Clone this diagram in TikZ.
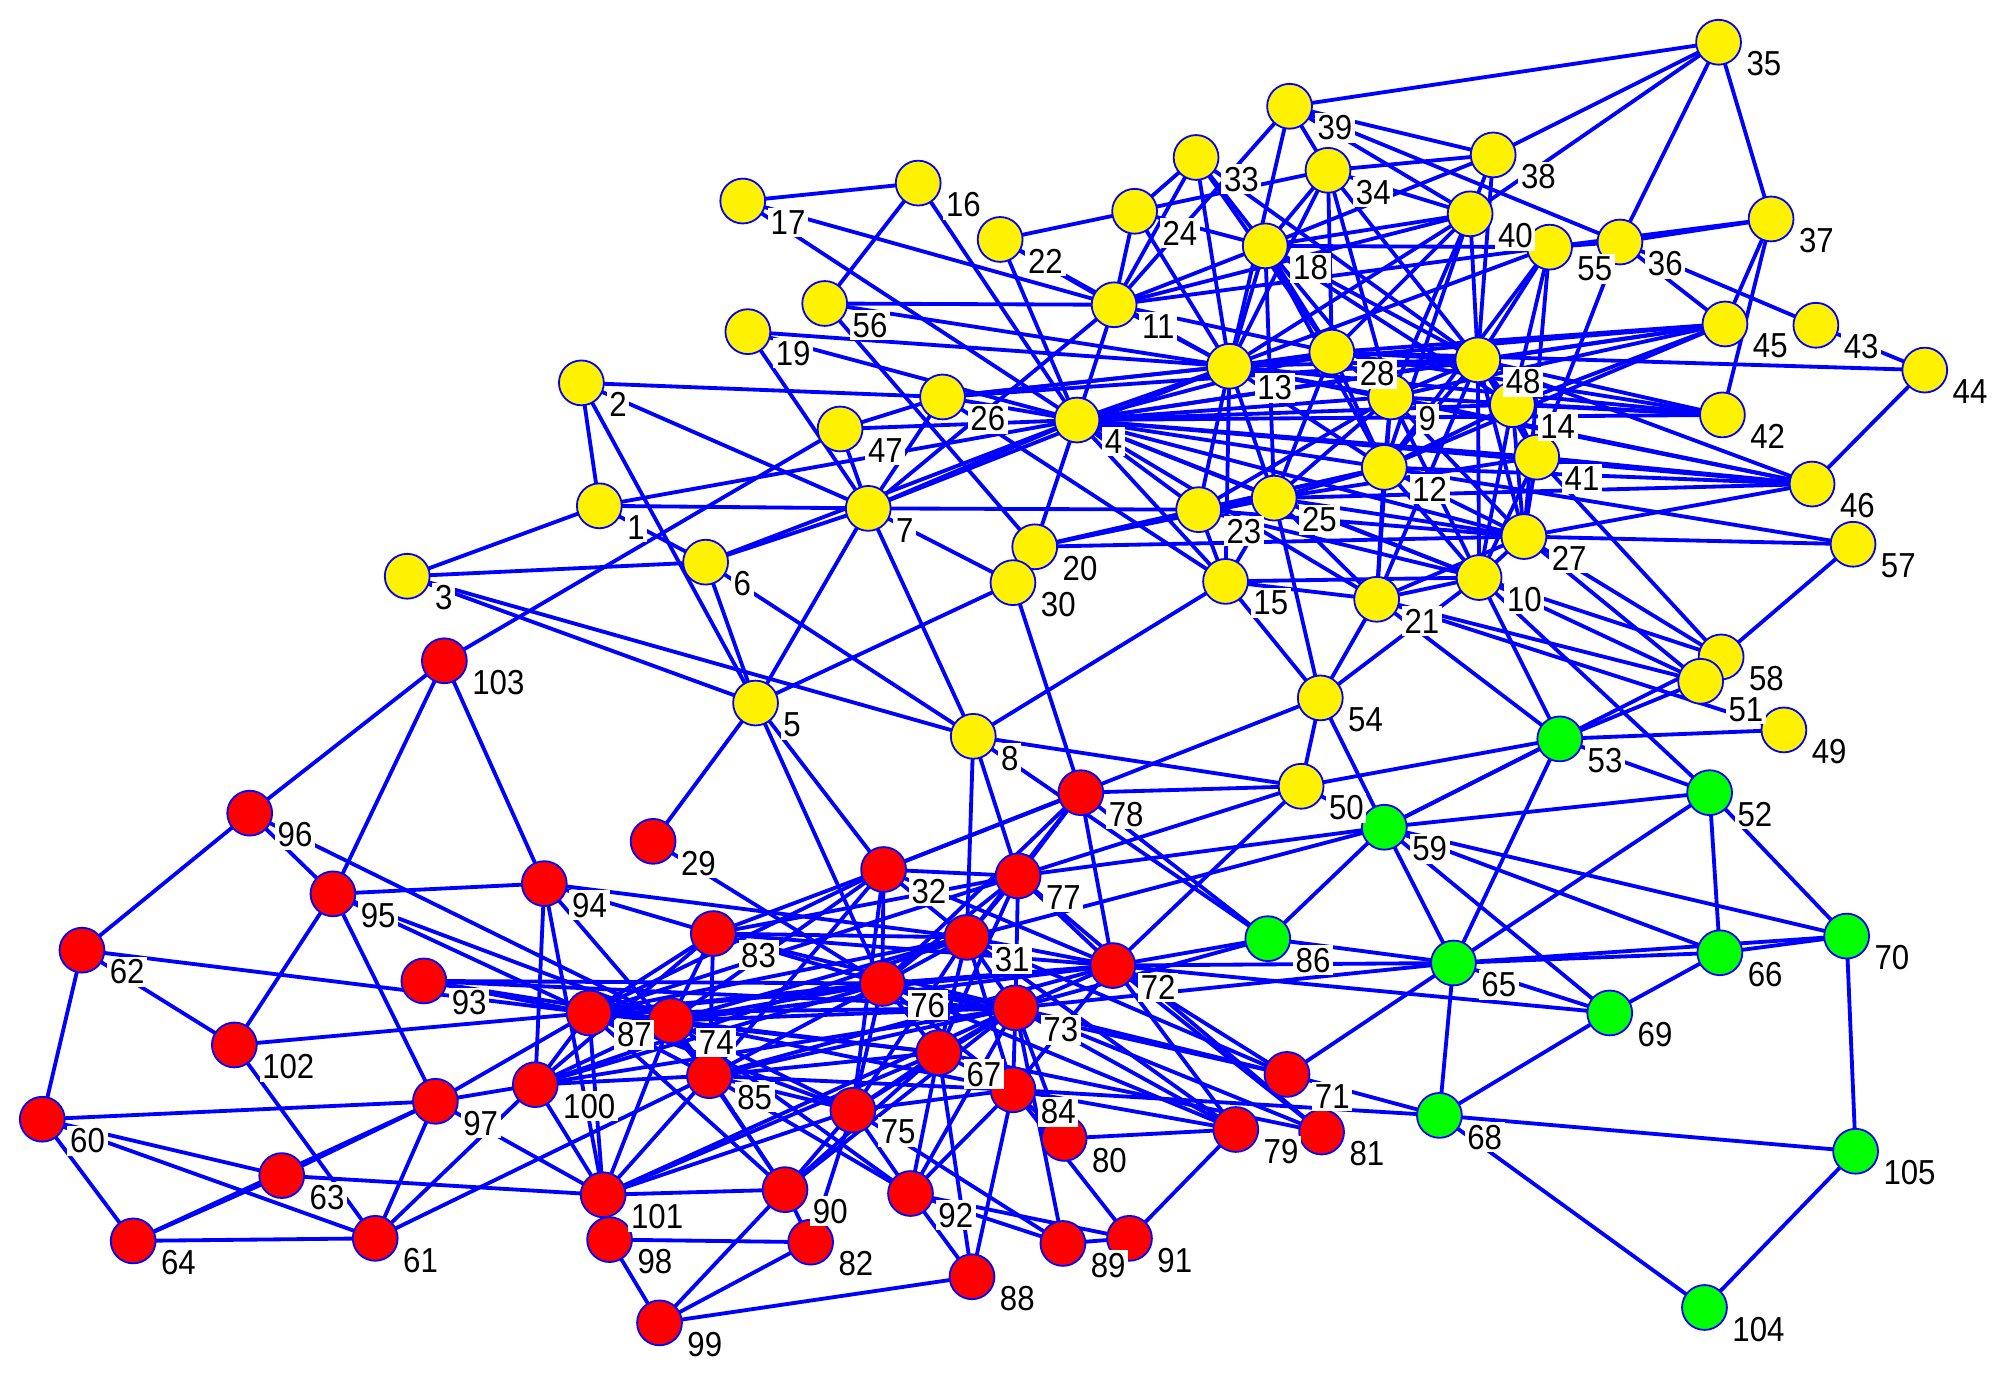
\documentclass[tikz,border=0pt]{standalone}
\usepackage{fontspec}
\setmainfont{Liberation Sans}[FakeStretch=0.9]
\usetikzlibrary{backgrounds,calc}
\begin{document}
\begin{tikzpicture}[x=0.01cm,y=-0.01cm,
  vtx/.style={circle,draw=blue,line width=0.4pt,minimum size=0.35cm,inner sep=0pt},
  yv/.style={vtx,fill=yellow}, rv/.style={vtx,fill=red}, gv/.style={vtx,fill=green},
  lbl/.style={anchor=west,fill=white,inner sep=0.6pt,font=\fontsize{7.7}{8}\selectfont},
  edge/.style={blue,line width=0.85pt}]
\useasboundingbox (0,0) rectangle (1568,1080);
% yellow nodes
\foreach \n/\x/\y in {35/1342/33,39/1007/83,38/1166/121,33/934/123,34/1037/133,17/580/157,16/717/143,
  22/781/187,24/886/165,40/1148/167,37/1383/171,36/1265/189,18/988/192,55/1210/193,11/870/238,
  56/644/237,19/584/259,13/960/286,28/1040/275,48/1154/281,45/1347/253,43/1418/254,44/1503/289,
  2/454/299,26/736/310,47/656/335,4/841/328,9/1086/310,14/1181/316,42/1345/324,12/1081/365,
  41/1200/357,46/1415/378,1/468/395,7/678/397,23/936/398,25/995/389,27/1190/419,57/1447/425,
  3/318/450,6/551/439,20/808/427,30/791/455,15/957/454,21/1075/468,10/1155/451,58/1344/513,
  51/1328/532,49/1393/570,54/1031/545,5/590/549,8/760/575,50/1016/614}
  \node[yv] (n\n) at (\x,\y) {};
% green nodes
\foreach \n/\x/\y in {53/1218/577,52/1335/619,59/1081/646,86/990/733,65/1135/752,66/1343/744,
  70/1442/731,69/1257/791,68/1124/871,105/1449/899,104/1331/1021}
  \node[gv] (n\n) at (\x,\y) {};
% red nodes
\foreach \n/\x/\y in {103/347/516,96/195/635,29/510/657,78/844/619,32/690/679,77/795/684,94/425/690,
  95/260/698,62/64/742,83/557/729,31/755/732,72/869/754,93/331/766,76/689/768,87/460/791,74/524/797,
  73/793/787,102/183/816,67/733/822,85/554/840,100/418/847,84/791/851,71/1005/839,97/340/860,
  60/33/874,75/666/867,80/831/889,79/965/882,81/1032/884,63/220/918,101/471/933,90/613/929,
  92/711/932,98/476/968,82/633/970,89/830/971,91/882/967,64/104/969,61/293/967,88/759/997,99/515/1033}
  \node[rv] (n\n) at (\x,\y) {};
\begin{pgfonlayer}{background}
\foreach \a/\b in {17/16,17/11,17/4,16/56,16/4,56/11,56/13,56/20,19/7,19/13,19/4,
  2/1,2/26,2/7,2/5,1/3,1/7,1/6,1/4,3/6,3/5,3/8,103/47,103/96,103/95,103/94,
  6/7,6/4,6/5,6/8,7/5,7/8,7/30,7/23,7/26,7/4,7/11,7/13,47/26,47/4,47/7,
  5/30,5/29,5/32,5/76,8/31,8/50,8/77,8/86,30/78,15/8,15/54,15/4,15/26,15/21,15/10,
  20/4,20/27,20/25,20/12,22/11,22/4,22/13,22/24,
  11/24,11/18,11/33,11/13,11/39,11/4,11/28,11/40,11/55,
  24/33,24/18,24/13,24/34,33/18,33/13,33/28,33/48,
  34/39,34/38,34/18,34/13,34/28,34/48,34/40,34/9,
  39/35,39/38,39/40,39/36,39/13,35/38,35/40,35/36,35/37,
  38/18,38/48,38/40,40/18,40/13,40/48,40/12,40/9,40/28,
  36/37,36/55,36/45,36/43,36/41,37/55,37/45,37/42,
  55/18,55/13,55/48,55/14,55/12,55/27,18/13,18/28,18/48,18/9,18/12,18/14,18/25,
  43/44,44/46,44/28,45/48,45/28,45/13,45/9,45/14,45/12,
  42/48,42/28,42/9,42/14,42/13,46/48,46/41,46/12,46/25,46/27,46/13,46/9,
  57/27,57/58,57/12,13/4,13/28,13/48,13/9,13/25,13/23,13/12,13/15,13/26,
  28/4,28/48,28/9,28/25,28/12,48/4,48/9,48/14,48/12,48/10,48/21,48/27,48/41,
  4/26,4/9,4/12,4/23,4/25,4/41,4/27,4/10,4/21,4/14,4/45,4/42,4/46,26/13,26/48,
  9/25,9/12,9/10,9/21,9/23,9/27,14/41,14/27,14/10,14/12,
  12/25,12/10,12/27,12/21,12/23,41/27,41/10,41/58,41/25,
  23/25,23/27,23/10,23/15,25/27,25/10,25/15,25/21,25/54,
  27/10,27/21,27/58,27/51,10/58,10/51,10/21,10/52,10/53,10/54,
  21/54,21/49,21/53,21/51,58/59,51/53,49/53,54/59,54/50,54/32,
  53/59,53/50,53/52,53/65,52/59,52/66,52/70,52/65,
  59/50,59/86,59/65,59/66,59/69,59/70,59/77,59/31,
  86/72,86/73,86/65,86/78,65/72,65/73,65/66,65/70,65/68,65/71,65/69,
  69/66,69/68,69/72,66/70,70/105,68/105,68/104,105/104,68/71,68/84,
  50/78,50/77,72/50,96/62,96/95,96/74,95/94,95/102,95/97,95/87,95/74,
  94/100,94/101,94/83,94/31,94/85,62/60,62/102,62/87,93/87,93/74,93/76,93/73,
  102/87,102/61,60/97,60/63,60/61,60/64,64/63,64/97,64/61,63/97,63/101,
  61/97,61/100,61/85,97/100,97/87,97/101,
  100/87,100/74,100/101,100/85,100/83,100/76,100/31,100/73,
  101/87,101/74,101/85,101/75,101/90,101/98,101/67,101/73,
  98/82,98/99,99/82,99/90,99/88,82/90,82/75,
  90/75,90/85,90/74,90/87,90/67,90/73,
  92/75,92/85,92/74,92/88,92/89,92/91,92/67,92/84,92/73,
  88/84,88/67,89/91,89/73,89/75,91/79,91/84,80/79,80/73,80/84,
  79/72,79/73,79/31,79/76,79/84,81/72,81/73,81/77,81/67,
  71/72,71/73,71/31,71/76,72/78,72/77,72/31,72/73,72/76,72/84,72/32,
  73/31,73/77,73/76,73/67,73/84,73/75,73/74,73/87,73/85,
  84/67,84/75,84/76,84/31,84/74,84/85,67/76,67/75,67/31,67/85,67/74,67/87,67/77,
  75/76,75/85,75/74,75/31,75/32,75/87,76/31,76/32,76/77,76/83,76/87,76/74,76/85,
  31/32,31/77,31/78,31/83,31/87,31/74,32/77,32/83,32/78,32/87,32/74,32/85,29/76,
  77/78,77/83,77/87,78/76,83/87,83/74,83/85,87/74,87/85,74/85,
  87/72,74/72,85/72,83/72,83/73}
  \draw[edge] (n\a.center) -- (n\b.center);
\end{pgfonlayer}
% labels
\foreach \n in {1,...,50,52,53,...,105}
  \node[lbl] (l\n) at ($(n\n.center)+(19,17)$) {\n};
\node[lbl] (l51) at ($(n51.center)+(19,22)$) {51};
\end{tikzpicture}
\end{document}
